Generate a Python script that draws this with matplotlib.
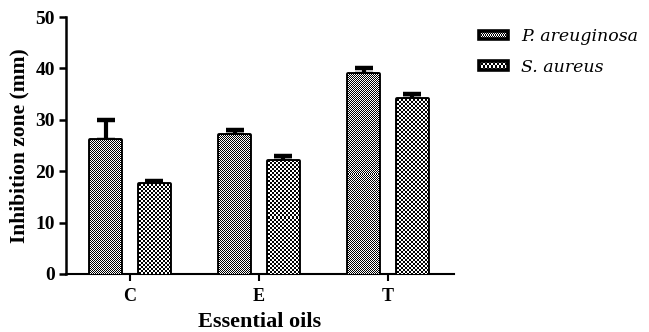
import numpy as np
import matplotlib
matplotlib.use("Agg")
import matplotlib.pyplot as plt
from matplotlib.patches import Rectangle
from matplotlib.image import BboxImage

categories = ["C", "E", "T"]
series_names = ["P. areuginosa", "S. aureus"]
p_values = [26.0, 27.0, 39.0]
p_errors = [4.0, 1.0, 1.0]
s_values = [17.5, 22.0, 34.0]
s_errors = [0.5, 1.0, 1.0]
y_ticks = [0, 10, 20, 30, 40, 50]

serif = ["Liberation Serif", "DejaVu Serif"]
plt.rcParams["font.family"] = serif

W, H = 649, 332
fig = plt.figure(figsize=(W / 100, H / 100), dpi=100)
ax = fig.add_axes([66 / W, 1 - 274 / H, (454 - 66) / W, (274 - 17) / H])

x = np.arange(len(categories))
offset = 0.188
width = 0.24
lw = 2.8

bars_p = ax.bar(x - offset, p_values, width, facecolor="white", edgecolor="black",
                linewidth=lw, joinstyle="round", zorder=3)
bars_s = ax.bar(x + offset, s_values, width, facecolor="white", edgecolor="black",
                linewidth=lw, joinstyle="round", zorder=3)
ax.errorbar(x - offset, p_values, yerr=[np.zeros(3), p_errors], fmt="none",
            ecolor="black", elinewidth=3.0, capsize=6.5, capthick=3.2, zorder=2)
ax.errorbar(x + offset, s_values, yerr=[np.zeros(3), s_errors], fmt="none",
            ecolor="black", elinewidth=3.0, capsize=6.5, capthick=3.2, zorder=2)

ax.set_xlim(-0.496, 0.512 + 2)
ax.set_ylim(0, 50)
ax.set_yticks(y_ticks)
ax.set_xticks(x)
ax.set_xticklabels(categories)
for s in ["top", "right"]:
    ax.spines[s].set_visible(False)
ax.spines["left"].set_linewidth(1.8)
ax.spines["bottom"].set_linewidth(1.5)
ax.tick_params(axis="y", length=5, width=1.8, direction="out", pad=3, labelsize=14)
ax.tick_params(axis="x", length=5, width=1.5, direction="out", pad=5, labelsize=13)
for lab in ax.get_yticklabels() + ax.get_xticklabels():
    lab.set_fontweight("bold")
ax.set_ylabel("Inhibition zone (mm)", fontsize=15.5, fontweight="bold", va="center")
ax.yaxis.set_label_coords((19 - 66) / 388, 0.5)
ax.set_xlabel("Essential oils", fontsize=16, fontweight="bold", va="baseline")
ax.xaxis.set_label_coords(0.5, (274 - 327) / 257)

# legend
h1 = Rectangle((0, 0), 1, 1, facecolor="white", edgecolor="black", linewidth=2.6, joinstyle="round")
h2 = Rectangle((0, 0), 1, 1, facecolor="white", edgecolor="black", linewidth=2.6, joinstyle="round")
leg = fig.legend([h1, h2], series_names, loc="upper left",
                 bbox_to_anchor=(465 / W, 1 - 14 / H), frameon=False,
                 prop={"family": ["DejaVu Serif"], "style": "italic", "size": 12.5},
                 handlelength=1.65, handleheight=0.35, handletextpad=0.8, labelspacing=0.8,
                 borderpad=0.3)

fig.canvas.draw()


def checker(wpx, hpx, cell):
    yy, xx = np.mgrid[0:max(hpx, 1), 0:max(wpx, 1)]
    return (((xx // cell) + (yy // cell)) % 2).astype(float)


def fill_checker(patch, cell):
    bb = patch.get_window_extent()
    wpx, hpx = int(round(bb.width)), int(round(bb.height))
    img = BboxImage(bb, cmap="gray", interpolation="nearest", norm=plt.Normalize(0, 1))
    img.set_data(checker(wpx, hpx, cell))
    img.set_clip_path(patch)
    img.set_zorder(patch.get_zorder() + 0.1)
    fig.add_artist(img)
    patch.set_facecolor("none")
    patch.set_zorder(patch.get_zorder() + 0.2)


for b in bars_p:
    fill_checker(b, 1)
for b in bars_s:
    fill_checker(b, 2)

lp = leg.get_patches()
fill_checker(lp[0], 1)
fill_checker(lp[1], 2)

fig.savefig("out.png", dpi=100)
